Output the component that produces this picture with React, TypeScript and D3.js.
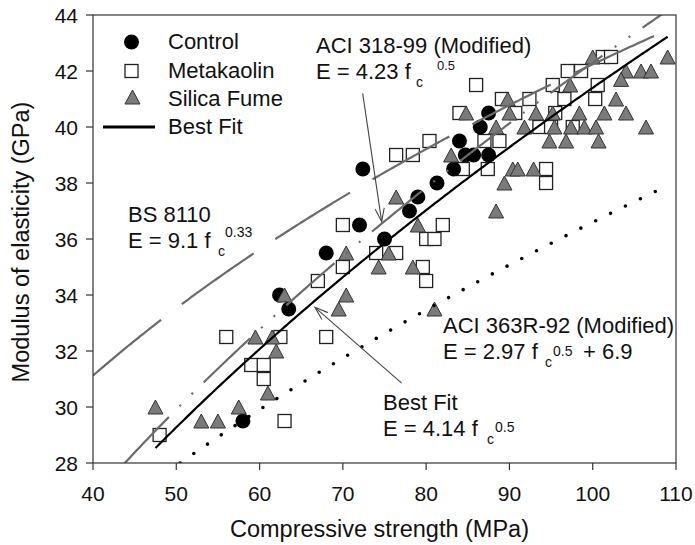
import React from "react";
import * as d3 from "d3";

// ---- Data -----------------------------------------------------------------
const xTicks = [40, 50, 60, 70, 80, 90, 100, 110];
const yTicks = [28, 30, 32, 34, 36, 38, 40, 42, 44];

const controlFc = [58, 62.4, 63.5, 68, 72, 72.4, 75, 78, 79, 81.3, 83.3, 84, 84.7, 85.7, 86.5, 87.5, 87.5];
const controlE = [29.5, 34.0, 33.5, 35.5, 36.5, 38.5, 36.0, 37.0, 37.5, 38.0, 38.5, 39.5, 39.0, 39.0, 40.0, 40.5, 39.0];

const metakaolinFc = [
  48, 56, 59, 60.5, 60.5, 62.5, 63, 67, 68, 70, 70, 74, 76.4, 76.4, 78.4, 80.4, 79.6, 80, 80, 81, 82,
  84, 86, 89.1, 90.7, 92.4, 87, 88.8, 84.4, 87.4, 93.6, 95.2, 96.6, 95.5, 95, 97.6, 97, 98.6, 101.2,
  102.2, 100.6, 100.3, 94.4, 94.4,
];
const metakaolinE = [
  29, 32.5, 31.5, 31.5, 31.0, 32.5, 29.5, 34.5, 32.5, 36.5, 35, 35.5, 35.5, 39, 39, 39.5, 35, 34.5, 36, 36, 36.5,
  40.5, 41.5, 41, 40.5, 41, 39.5, 39.5, 38.5, 38.5, 40, 41.5, 41, 40.5, 40, 40, 42, 42, 42.5,
  42.5, 41.5, 41, 38.5, 38,
];

const silicaFc = [
  47.5, 53, 55, 57.5, 59.5, 61.5, 62, 61, 63, 69.5, 70.4, 70.4, 75.5, 74.3, 76.4, 79, 78.4, 81,
  83, 84.8, 88.4, 89.8, 90, 91.8, 93.2, 95.2, 98.4, 101.4, 104, 95.4, 97.4, 99, 100.4, 106.4, 94.8,
  96.8, 100.7, 90.4, 91, 92.9, 89.4, 88.4, 97.3, 100, 109, 104, 105.8, 107, 103.4, 102.8,
];
const silicaE = [
  30, 29.5, 29.5, 30, 32.5, 32.5, 32, 30.5, 34, 33.5, 34, 35.5, 35.5, 35, 37.5, 36.5, 35, 33.5,
  39, 40.5, 40, 41, 40.5, 40, 40.5, 40.5, 40.5, 40.5, 40.5, 40, 40, 40, 40, 40, 39.5,
  39.5, 39.5, 38.5, 38.5, 38.5, 38, 37, 41.5, 42.5, 42.5, 42, 42, 42, 41.7, 41,
];

// Model equations E = k * fc^n (+ c)
const BEST_FIT_K = 4.14;
const ACI318_K = 4.23;
const BS8110_K = 9.1;
const BS8110_N = 1 / 3; // printed as 0.33
const ACI363_K = 2.97;
const ACI363_C = 6.9;

const bestFitRange = [47.5, 109];
const aci318Range = [43.8, 110];
const bs8110Range = [40, 110];
const aci363Range = [50.47, 108.6];

// Arrow annotations in data units: [fcTail, ETail, fcTip, ETip]
const aci318Arrow = [72.38, 41.2, 74.66, 36.62];
const bestFitArrow = [77.06, 30.85, 66.65, 33.56];

// ---- Layout ---------------------------------------------------------------
const W = 695;
const H = 545;
const L = 93;
const R = 676;
const T = 15;
const B = 463;
const FONT = "'Liberation Sans', Arial, Helvetica, sans-serif";

const x = d3.scaleLinear().domain([40, 110]).range([L, R]);
const y = d3.scaleLinear().domain([28, 44]).range([B, T]);

const sample = (a: number, b: number, f: (v: number) => number) =>
  d3.range(a, b, 0.25).concat([b]).map((v) => [v, f(v)] as [number, number]);

const lineGen = d3
  .line<[number, number]>()
  .x((d) => x(d[0]))
  .y((d) => y(d[1]))
  .curve(d3.curveLinear);

const bestFitPath = lineGen(sample(bestFitRange[0], bestFitRange[1], (f) => BEST_FIT_K * Math.sqrt(f)))!;
const aci318Path = lineGen(sample(aci318Range[0], aci318Range[1], (f) => ACI318_K * Math.sqrt(f)))!;
const bs8110Path = lineGen(sample(bs8110Range[0], bs8110Range[1], (f) => BS8110_K * Math.pow(f, BS8110_N)))!;
const aci363Path = lineGen(sample(aci363Range[0], aci363Range[1], (f) => ACI363_K * Math.sqrt(f) + ACI363_C))!;

const zip = (a: number[], b: number[]) => a.map((v, i) => [v, b[i]] as [number, number]);

function Arrow({ d }: { d: number[] }) {
  const x1 = x(d[0]);
  const y1 = y(d[1]);
  const x2 = x(d[2]);
  const y2 = y(d[3]);
  const ang = Math.atan2(y1 - y2, x1 - x2);
  const len = 14;
  const spread = 0.33;
  const w1 = [x2 + len * Math.cos(ang + spread), y2 + len * Math.sin(ang + spread)];
  const w2 = [x2 + len * Math.cos(ang - spread), y2 + len * Math.sin(ang - spread)];
  return (
    <g stroke="#444" strokeWidth={1.1} fill="none">
      <line x1={x1} y1={y1} x2={x2} y2={y2} />
      <polyline points={`${w1[0]},${w1[1]} ${x2},${y2} ${w2[0]},${w2[1]}`} />
    </g>
  );
}

function Formula({
  px, py, title, main, sub, subDx, sup, supDx, supDy, supSize = 14, tail, tailDx,
}: {
  px: number; py: number; title: string; main: string; sub: string; subDx: number;
  sup: string; supDx: number; supDy: number; supSize?: number; tail?: string; tailDx?: number;
}) {
  return (
    <g fontFamily={FONT} fill="#111">
      <text x={px} y={py} fontSize={22}>{title}</text>
      <text x={px} y={py + 26} fontSize={22}>{main}</text>
      <text x={px + subDx} y={py + 34} fontSize={14}>{sub}</text>
      <text x={px + supDx} y={py + supDy} fontSize={supSize}>{sup}</text>
      {tail ? <text x={px + (tailDx || 0)} y={py + 26} fontSize={22}>{tail}</text> : null}
    </g>
  );
}

export default function App() {
  const tri = "M0,-7 L7.5,7 L-7.5,7 Z";
  return (
    <svg
      width={W}
      height={H}
      viewBox={`0 0 ${W} ${H}`}
      style={{ position: "absolute", left: 0, top: 0, background: "#fff" }}
    >
      <defs>
        <clipPath id="plotArea">
          <rect x={L} y={T} width={R - L} height={B - T} />
        </clipPath>
      </defs>
      <rect x={0} y={0} width={W} height={H} fill="#fff" />

      {/* markers */}
      <g>
        {zip(metakaolinFc, metakaolinE).map((p, i) => (
          <rect key={"m" + i} x={x(p[0]) - 6.5} y={y(p[1]) - 6.5} width={13} height={13}
            fill="#fff" stroke="#222" strokeWidth={1.3} />
        ))}
        {zip(controlFc, controlE).map((p, i) => (
          <circle key={"c" + i} cx={x(p[0])} cy={y(p[1])} r={7.5} fill="#000" />
        ))}
        {zip(silicaFc, silicaE).map((p, i) => (
          <path key={"s" + i} d={tri} transform={`translate(${x(p[0])},${y(p[1])})`}
            fill="#7a7a7a" stroke="#333" strokeWidth={1} />
        ))}
      </g>

      {/* model curves */}
      <g clipPath="url(#plotArea)" fill="none">
        <path d={bs8110Path} stroke="#6b6b6b" strokeWidth={2.2} strokeDasharray="88 26" />
        <path d={aci318Path} stroke="#6b6b6b" strokeWidth={2.2} strokeDasharray="64 15 2 15 2 15" />
        <path d={aci363Path} stroke="#000" strokeWidth={3.6} strokeLinecap="round" strokeDasharray="0 16.6" />
        <path d={bestFitPath} stroke="#000" strokeWidth={2.2} />
      </g>

      {/* frame */}
      <rect x={L} y={T} width={R - L} height={B - T} fill="none" stroke="#333" strokeWidth={1.2} />

      {/* axes */}
      <g fontFamily={FONT} fontSize={21} fill="#111">
        {xTicks.map((t) => (
          <g key={"xt" + t}>
            <line x1={x(t)} x2={x(t)} y1={B} y2={B + 7} stroke="#333" strokeWidth={1.2} />
            <text x={x(t)} y={B + 38} textAnchor="middle">{t}</text>
          </g>
        ))}
        {yTicks.map((t) => (
          <g key={"yt" + t}>
            <line x1={L - 7} x2={L} y1={y(t)} y2={y(t)} stroke="#333" strokeWidth={1.2} />
            <text x={L - 15} y={y(t)} dy="0.36em" textAnchor="end">{t}</text>
          </g>
        ))}
      </g>
      <text x={(L + R) / 2 - 5} y={537} textAnchor="middle" fontFamily={FONT} fontSize={23.5} fill="#111">
        Compressive strength (MPa)
      </text>
      <text transform={`translate(29,${(T + B) / 2 + 3}) rotate(-90)`} textAnchor="middle"
        fontFamily={FONT} fontSize={23.5} fill="#111">
        Modulus of elasticity (GPa)
      </text>

      {/* legend */}
      <g fontFamily={FONT} fontSize={22} fill="#111">
        <circle cx={131.5} cy={42} r={7.5} fill="#000" />
        <text x={168} y={49}>Control</text>
        <rect x={125} y={64.5} width={13} height={13} fill="#fff" stroke="#222" strokeWidth={1.3} />
        <text x={168} y={78}>Metakaolin</text>
        <path d={tri} transform="translate(132.5,97)" fill="#7a7a7a" stroke="#333" strokeWidth={1} />
        <text x={168} y={106}>Silica Fume</text>
        <line x1={103} x2={155} y1={127} y2={127} stroke="#000" strokeWidth={3} />
        <text x={168} y={134}>Best Fit</text>
      </g>

      {/* equation annotations */}
      <Formula px={316} py={53} title="ACI 318-99 (Modified)" main="E = 4.23 f" sub="c" subDx={100}
        sup="0.5" supDx={121} supDy={17} supSize={13} />
      <Formula px={128} py={222} title="BS 8110" main="E = 9.1 f" sub="c" subDx={90}
        sup="0.33" supDx={97} supDy={15} />
      <Formula px={443} py={333} title="ACI 363R-92 (Modified)" main="E = 2.97 f" sub="c" subDx={102}
        sup="0.5" supDx={110} supDy={23} tail="+ 6.9" tailDx={140} />
      <Formula px={383} py={410} title="Best Fit" main="E = 4.14 f" sub="c" subDx={104}
        sup="0.5" supDx={112} supDy={22} />

      <Arrow d={aci318Arrow} />
      <Arrow d={bestFitArrow} />
    </svg>
  );
}
